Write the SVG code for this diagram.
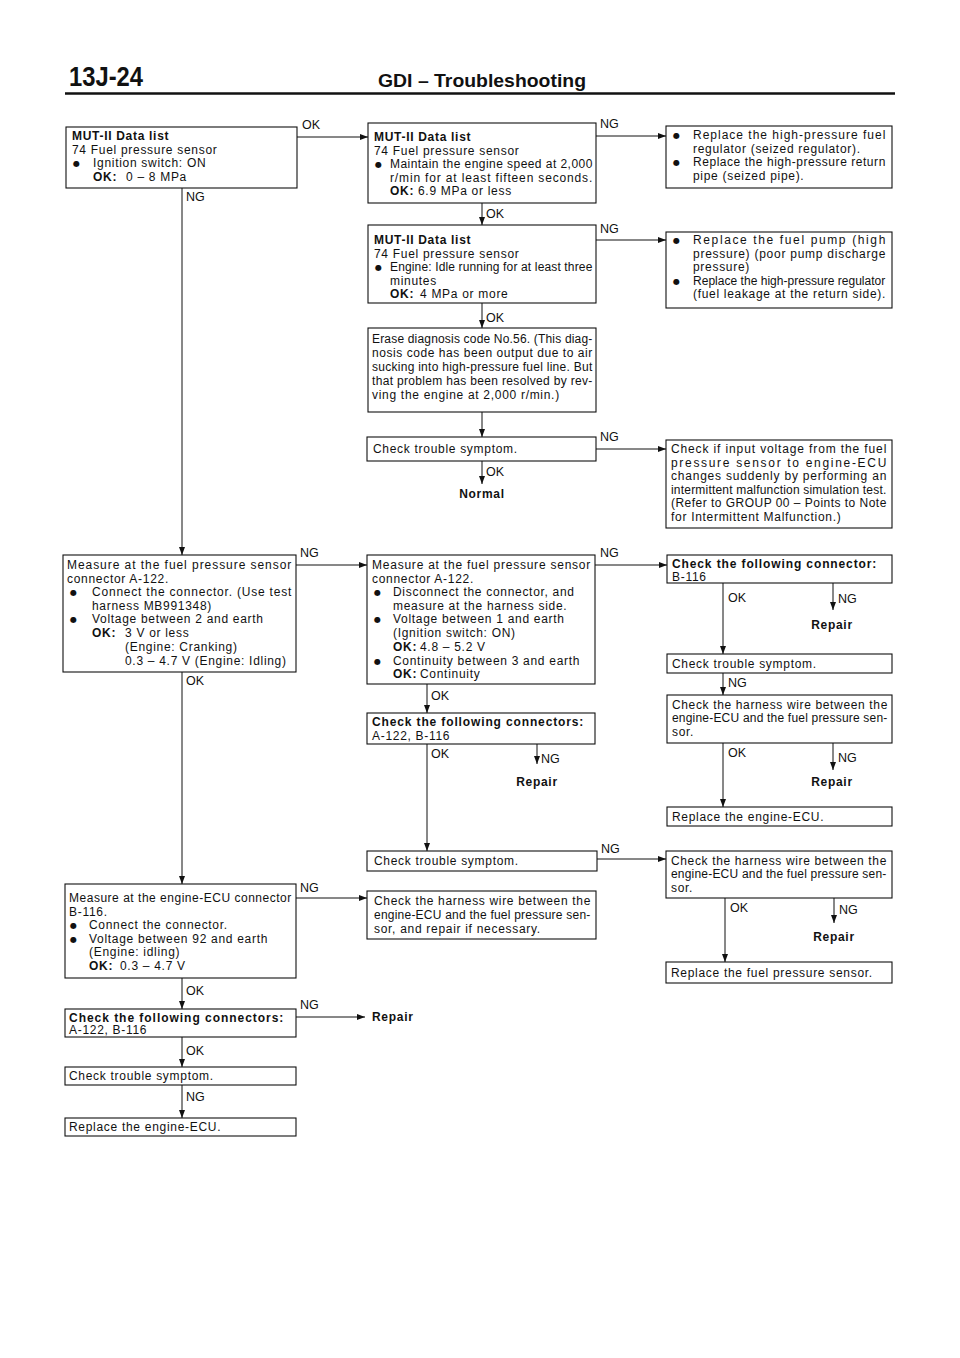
<svg xmlns="http://www.w3.org/2000/svg" width="960" height="1358" viewBox="0 0 960 1358">
<style>
.bg{fill:#fff}
.box{fill:#fff;stroke:#111;stroke-width:1.1}
.t{font-family:"Liberation Sans",Arial,Helvetica,sans-serif;font-size:12px;letter-spacing:0.7px;fill:#111}
.b{font-weight:bold}
.bu{font-family:"DejaVu Sans",sans-serif;font-size:8px;fill:#111}
.ln{stroke:#111;stroke-width:1;fill:none}
.lbl{font-family:"Liberation Sans",Arial,Helvetica,sans-serif;font-size:12.5px;fill:#111}
</style>
<defs>
<marker id="ah" markerUnits="userSpaceOnUse" markerWidth="9" markerHeight="6" refX="8" refY="3" orient="auto">
<path d="M0,0 L8,3 L0,6 Z" fill="#111"/>
</marker>
</defs>
<rect class="bg" x="0" y="0" width="960" height="1358"/>

<g id="header">
<text x="69" y="86" font-family="Liberation Sans,Arial,sans-serif" font-weight="bold" font-size="27" textLength="74" lengthAdjust="spacingAndGlyphs" fill="#111">13J-24</text>
<text x="378" y="87" font-family="Liberation Sans,Arial,sans-serif" font-weight="bold" font-size="19" textLength="208" lengthAdjust="spacingAndGlyphs" fill="#111">GDI – Troubleshooting</text>
<line x1="65" y1="93.5" x2="895" y2="93.5" stroke="#111" stroke-width="2.5"/>
</g>

<g id="connectors">
<line class="ln" x1="297" y1="137" x2="368" y2="137" marker-end="url(#ah)"/>
<text class="lbl" x="302" y="129">OK</text>
<line class="ln" x1="596" y1="136" x2="666" y2="136" marker-end="url(#ah)"/>
<text class="lbl" x="600" y="128">NG</text>
<line class="ln" x1="482" y1="203" x2="482" y2="225" marker-end="url(#ah)"/>
<text class="lbl" x="486" y="218">OK</text>
<line class="ln" x1="596" y1="240" x2="666" y2="240" marker-end="url(#ah)"/>
<text class="lbl" x="600" y="233">NG</text>
<line class="ln" x1="482" y1="303" x2="482" y2="328" marker-end="url(#ah)"/>
<text class="lbl" x="486" y="322">OK</text>
<line class="ln" x1="482" y1="412" x2="482" y2="437" marker-end="url(#ah)"/>
<line class="ln" x1="596" y1="449" x2="666" y2="449" marker-end="url(#ah)"/>
<text class="lbl" x="600" y="441">NG</text>
<line class="ln" x1="482" y1="461" x2="482" y2="484" marker-end="url(#ah)"/>
<text class="lbl" x="486" y="476">OK</text>
<line class="ln" x1="182" y1="188" x2="182" y2="555" marker-end="url(#ah)"/>
<text class="lbl" x="186" y="201">NG</text>
<line class="ln" x1="296" y1="565" x2="367" y2="565" marker-end="url(#ah)"/>
<text class="lbl" x="300" y="557">NG</text>
<line class="ln" x1="595" y1="565" x2="667" y2="565" marker-end="url(#ah)"/>
<text class="lbl" x="600" y="557">NG</text>
<line class="ln" x1="427" y1="684" x2="427" y2="713" marker-end="url(#ah)"/>
<text class="lbl" x="431" y="700">OK</text>
<line class="ln" x1="427" y1="744" x2="427" y2="851" marker-end="url(#ah)"/>
<text class="lbl" x="431" y="758">OK</text>
<line class="ln" x1="537" y1="744" x2="537" y2="764" marker-end="url(#ah)"/>
<text class="lbl" x="541" y="763">NG</text>
<line class="ln" x1="723" y1="583" x2="723" y2="654" marker-end="url(#ah)"/>
<text class="lbl" x="728" y="602">OK</text>
<line class="ln" x1="833" y1="583" x2="833" y2="610" marker-end="url(#ah)"/>
<text class="lbl" x="838" y="603">NG</text>
<line class="ln" x1="723" y1="673" x2="723" y2="695" marker-end="url(#ah)"/>
<text class="lbl" x="728" y="687">NG</text>
<line class="ln" x1="723" y1="743" x2="723" y2="807" marker-end="url(#ah)"/>
<text class="lbl" x="728" y="757">OK</text>
<line class="ln" x1="833" y1="743" x2="833" y2="770" marker-end="url(#ah)"/>
<text class="lbl" x="838" y="762">NG</text>
<line class="ln" x1="597" y1="859" x2="666" y2="859" marker-end="url(#ah)"/>
<text class="lbl" x="601" y="853">NG</text>
<line class="ln" x1="725" y1="898" x2="725" y2="962" marker-end="url(#ah)"/>
<text class="lbl" x="730" y="912">OK</text>
<line class="ln" x1="834" y1="898" x2="834" y2="923" marker-end="url(#ah)"/>
<text class="lbl" x="839" y="914">NG</text>
<line class="ln" x1="182" y1="672" x2="182" y2="884" marker-end="url(#ah)"/>
<text class="lbl" x="186" y="685">OK</text>
<line class="ln" x1="296" y1="898" x2="367" y2="898" marker-end="url(#ah)"/>
<text class="lbl" x="300" y="892">NG</text>
<line class="ln" x1="182" y1="978" x2="182" y2="1009" marker-end="url(#ah)"/>
<text class="lbl" x="186" y="995">OK</text>
<line class="ln" x1="296" y1="1017" x2="365" y2="1017" marker-end="url(#ah)"/>
<text class="lbl" x="300" y="1009">NG</text>
<line class="ln" x1="182" y1="1037" x2="182" y2="1067" marker-end="url(#ah)"/>
<text class="lbl" x="186" y="1055">OK</text>
<line class="ln" x1="182" y1="1085" x2="182" y2="1118" marker-end="url(#ah)"/>
<text class="lbl" x="186" y="1101">NG</text>
</g>

<g id="nodeA">
<rect class="box" x="66" y="127" width="231" height="61"/>
<text class="t b" x="72" y="140">MUT-II Data list</text>
<text class="t" x="72" y="153.5">74 Fuel pressure sensor</text>
<text class="bu" x="73" y="166">●</text>
<text class="t" x="93" y="167">Ignition switch: ON</text>
<text class="t b" x="93" y="181">OK:</text>
<text class="t" x="126" y="181">0 – 8 MPa</text>
</g>

<g id="nodeB">
<rect class="box" x="368" y="123" width="228" height="80"/>
<text class="t b" x="374" y="141">MUT-II Data list</text>
<text class="t" x="374" y="154.5">74 Fuel pressure sensor</text>
<text class="bu" x="375" y="167">●</text>
<text class="t" x="390" y="168" textLength="203">Maintain the engine speed at 2,000</text>
<text class="t" x="390" y="181.5" textLength="203">r/min for at least fifteen seconds.</text>
<text class="t b" x="390" y="195">OK:</text>
<text class="t" x="418" y="195">6.9 MPa or less</text>
</g>

<g id="nodeC">
<rect class="box" x="666" y="126" width="226" height="62"/>
<text class="bu" x="673" y="138">●</text>
<text class="t" x="693" y="139" textLength="193">Replace the high-pressure fuel</text>
<text class="t" x="693" y="152.5">regulator (seized regulator).</text>
<text class="bu" x="673" y="165">●</text>
<text class="t" x="693" y="166" textLength="193">Replace the high-pressure return</text>
<text class="t" x="693" y="179.5">pipe (seized pipe).</text>
</g>

<g id="nodeD">
<rect class="box" x="368" y="225" width="228" height="78"/>
<text class="t b" x="374" y="244">MUT-II Data list</text>
<text class="t" x="374" y="257.5">74 Fuel pressure sensor</text>
<text class="bu" x="375" y="270">●</text>
<text class="t" x="390" y="271" textLength="203">Engine: Idle running for at least three</text>
<text class="t" x="390" y="284.5">minutes</text>
<text class="t b" x="390" y="298">OK:</text>
<text class="t" x="420" y="298">4 MPa or more</text>
</g>

<g id="nodeE">
<rect class="box" x="666" y="232" width="226" height="76"/>
<text class="bu" x="673" y="243">●</text>
<text class="t" x="693" y="244" textLength="193">Replace the fuel pump (high</text>
<text class="t" x="693" y="257.5" textLength="193">pressure) (poor pump discharge</text>
<text class="t" x="693" y="271">pressure)</text>
<text class="bu" x="673" y="283.5">●</text>
<text class="t" x="693" y="284.5" textLength="193">Replace the high-pressure regulator</text>
<text class="t" x="693" y="298" textLength="193">(fuel leakage at the return side).</text>
</g>

<g id="nodeF">
<rect class="box" x="368" y="328" width="228" height="84"/>
<text class="t" x="372" y="343" textLength="221">Erase diagnosis code No.56. (This diag-</text>
<text class="t" x="372" y="357" textLength="221">nosis code has been output due to air</text>
<text class="t" x="372" y="371" textLength="221">sucking into high-pressure fuel line. But</text>
<text class="t" x="372" y="385" textLength="221">that problem has been resolved by rev-</text>
<text class="t" x="372" y="399">ving the engine at 2,000 r/min.)</text>
</g>

<g id="nodeG">
<rect class="box" x="367" y="437" width="229" height="24"/>
<text class="t" x="373" y="453">Check trouble symptom.</text>
</g>

<g id="nodeNormal">
<text class="t b" x="482" y="498" text-anchor="middle">Normal</text>
</g>

<g id="nodeH">
<rect class="box" x="666" y="440" width="226" height="88"/>
<text class="t" x="671" y="453" textLength="216">Check if input voltage from the fuel</text>
<text class="t" x="671" y="466.5" textLength="216">pressure sensor to engine-ECU</text>
<text class="t" x="671" y="480" textLength="216">changes suddenly by performing an</text>
<text class="t" x="671" y="493.5" textLength="216">intermittent malfunction simulation test.</text>
<text class="t" x="671" y="507" textLength="216">(Refer to GROUP 00 – Points to Note</text>
<text class="t" x="671" y="520.5">for Intermittent Malfunction.)</text>
</g>

<g id="nodeI">
<rect class="box" x="63" y="555" width="233" height="117"/>
<text class="t" x="67" y="569" textLength="225">Measure at the fuel pressure sensor</text>
<text class="t" x="67" y="582.5">connector A-122.</text>
<text class="bu" x="70" y="595">●</text>
<text class="t" x="92" y="596" textLength="200">Connect the connector. (Use test</text>
<text class="t" x="92" y="609.5">harness MB991348)</text>
<text class="bu" x="70" y="622">●</text>
<text class="t" x="92" y="623">Voltage between 2 and earth</text>
<text class="t b" x="92" y="637">OK:</text>
<text class="t" x="125" y="637">3 V or less</text>
<text class="t" x="125" y="651">(Engine: Cranking)</text>
<text class="t" x="125" y="665">0.3 – 4.7 V (Engine: Idling)</text>
</g>

<g id="nodeJ">
<rect class="box" x="367" y="555" width="228" height="129"/>
<text class="t" x="372" y="569" textLength="219">Measure at the fuel pressure sensor</text>
<text class="t" x="372" y="582.5">connector A-122.</text>
<text class="bu" x="374" y="595">●</text>
<text class="t" x="393" y="596">Disconnect the connector, and</text>
<text class="t" x="393" y="609.5">measure at the harness side.</text>
<text class="bu" x="374" y="622">●</text>
<text class="t" x="393" y="623">Voltage between 1 and earth</text>
<text class="t" x="393" y="637">(Ignition switch: ON)</text>
<text class="t b" x="393" y="651">OK:</text>
<text class="t" x="420" y="651">4.8 – 5.2 V</text>
<text class="bu" x="374" y="663.5">●</text>
<text class="t" x="393" y="664.5">Continuity between 3 and earth</text>
<text class="t b" x="393" y="678">OK:</text>
<text class="t" x="420" y="678">Continuity</text>
</g>

<g id="nodeK">
<rect class="box" x="367" y="713" width="228" height="31"/>
<text class="t b" x="372" y="726" textLength="212">Check the following connectors:</text>
<text class="t" x="372" y="739.5">A-122, B-116</text>
</g>

<g id="nodeRepair1">
<text class="t b" x="537" y="786" text-anchor="middle">Repair</text>
</g>

<g id="nodeL">
<rect class="box" x="667" y="555" width="225" height="28"/>
<text class="t b" x="672" y="568" textLength="205">Check the following connector:</text>
<text class="t" x="672" y="580.5">B-116</text>
</g>

<g id="nodeRepair2">
<text class="t b" x="832" y="629" text-anchor="middle">Repair</text>
</g>

<g id="nodeM">
<rect class="box" x="667" y="654" width="225" height="19"/>
<text class="t" x="672" y="667.5">Check trouble symptom.</text>
</g>

<g id="nodeN">
<rect class="box" x="667" y="695" width="225" height="48"/>
<text class="t" x="672" y="708.5" textLength="216">Check the harness wire between the</text>
<text class="t" x="672" y="722" textLength="216">engine-ECU and the fuel pressure sen-</text>
<text class="t" x="672" y="735.5">sor.</text>
</g>

<g id="nodeRepair3">
<text class="t b" x="832" y="786" text-anchor="middle">Repair</text>
</g>

<g id="nodeO">
<rect class="box" x="667" y="807" width="225" height="19"/>
<text class="t" x="672" y="821">Replace the engine-ECU.</text>
</g>

<g id="nodeP">
<rect class="box" x="367" y="851" width="230" height="20"/>
<text class="t" x="374" y="865">Check trouble symptom.</text>
</g>

<g id="nodeQ">
<rect class="box" x="666" y="851" width="226" height="47"/>
<text class="t" x="671" y="864.5" textLength="216">Check the harness wire between the</text>
<text class="t" x="671" y="878" textLength="216">engine-ECU and the fuel pressure sen-</text>
<text class="t" x="671" y="891.5">sor.</text>
</g>

<g id="nodeRepair4">
<text class="t b" x="834" y="941" text-anchor="middle">Repair</text>
</g>

<g id="nodeR">
<rect class="box" x="666" y="962" width="226" height="21"/>
<text class="t" x="671" y="977">Replace the fuel pressure sensor.</text>
</g>

<g id="nodeW">
<rect class="box" x="367" y="891" width="229" height="48"/>
<text class="t" x="374" y="905" textLength="217">Check the harness wire between the</text>
<text class="t" x="374" y="919" textLength="217">engine-ECU and the fuel pressure sen-</text>
<text class="t" x="374" y="933">sor, and repair if necessary.</text>
</g>

<g id="nodeS">
<rect class="box" x="65" y="884" width="231" height="94"/>
<text class="t" x="69" y="902" textLength="223">Measure at the engine-ECU connector</text>
<text class="t" x="69" y="915.5">B-116.</text>
<text class="bu" x="70" y="928">●</text>
<text class="t" x="89" y="929">Connect the connector.</text>
<text class="bu" x="70" y="941.5">●</text>
<text class="t" x="89" y="942.5">Voltage between 92 and earth</text>
<text class="t" x="89" y="956">(Engine: idling)</text>
<text class="t b" x="89" y="970">OK:</text>
<text class="t" x="120" y="970">0.3 – 4.7 V</text>
</g>

<g id="nodeRepair5">
<text class="t b" x="372" y="1021">Repair</text>
</g>

<g id="nodeT">
<rect class="box" x="65" y="1009" width="231" height="28"/>
<text class="t b" x="69" y="1021.5" textLength="215">Check the following connectors:</text>
<text class="t" x="69" y="1033.5">A-122, B-116</text>
</g>

<g id="nodeU">
<rect class="box" x="65" y="1067" width="231" height="18"/>
<text class="t" x="69" y="1080">Check trouble symptom.</text>
</g>

<g id="nodeV">
<rect class="box" x="65" y="1118" width="231" height="18"/>
<text class="t" x="69" y="1131">Replace the engine-ECU.</text>
</g>
</svg>
